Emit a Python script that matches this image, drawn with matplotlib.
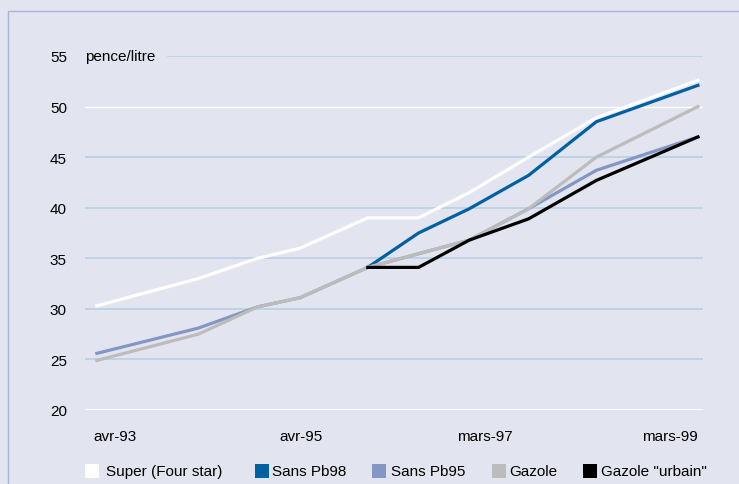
import matplotlib.pyplot as plt
from matplotlib.patches import Rectangle

plt.rcParams['font.family'] = ['Liberation Sans', 'DejaVu Sans']

# months since avr-93
months = [0, 12, 19, 24, 32, 38, 44, 51, 59, 71]

super_4star = [30.3, 33.0, 35.0, 36.0, 39.0, 39.0, 41.5, 45.0, 48.9, 52.6]
pb98 = [None, None, None, None, 34.1, 37.5, 39.9, 43.2, 48.5, 52.1]
pb95 = [25.6, 28.1, 30.2, 31.1, 34.1, 35.45, 36.8, 39.9, 43.7, 47.0]
gazole = [24.9, 27.5, 30.2, 31.1, 34.1, 35.45, 36.8, 39.9, 45.0, 50.0]
gazole_urbain = [None, None, None, None, 34.1, 34.1, 36.8, 38.9, 42.7, 47.0]

tick_pos = [2.2, 24.1, 45.8, 67.7]
tick_labels = ['avr-93', 'avr-95', 'mars-97', 'mars-99']

names = ['Super (Four star)', 'Sans Pb98', 'Sans Pb95', 'Gazole', 'Gazole "urbain"']
colors = ['#ffffff', '#0060a0', '#8497c4', '#bcbcbc', '#000000']
bg = '#e2e4ef'
fs = 11

fig = plt.figure(figsize=(7.39, 4.85), dpi=100, facecolor=bg)
ax = fig.add_axes([85 / 739, 1 - 411 / 485, 618 / 739, 354 / 485])
ax.set_facecolor(bg)

# frame (left and top edges only visible)
fig.patches.append(Rectangle((8 / 739, -0.1), 1.2, 1 - 12 / 485 + 0.1,
                             transform=fig.transFigure, fill=False,
                             edgecolor='#a8b4d8', linewidth=1))

# grid lines
for v in [25, 30, 35, 40, 45]:
    ax.axhline(v, color='#b9d0e4', linewidth=1.2, zorder=1)
ax.axhline(55, xmin=(168 - 85) / 618, color='#b9d0e4', linewidth=1.2, zorder=1)
ax.axhline(50, color='white', linewidth=1.0, zorder=1)
ax.axhline(20, color='white', linewidth=2.0, zorder=1)

series = [super_4star, pb98, pb95, gazole, gazole_urbain]
for i, (vals, c) in enumerate(zip(series, colors)):
    xs = [m for m, v in zip(months, vals) if v is not None]
    ys = [v for v in vals if v is not None]
    ax.plot(xs, ys, color=c, linewidth=2.3, zorder=3 + i, solid_joinstyle='miter')

ax.set_xlim(-1.4, 71.6)
ax.set_ylim(20, 55)
for s in ax.spines.values():
    s.set_visible(False)

ax.set_yticks([20, 25, 30, 35, 40, 45, 50, 55])
ax.tick_params(axis='y', length=0, pad=13, labelsize=fs)
ax.set_xticks(tick_pos)
ax.set_xticklabels(tick_labels)
ax.tick_params(axis='x', length=0, pad=14, labelsize=fs)

ax.text(0, 55, 'pence/litre', fontsize=fs, va='center', ha='left',
        transform=ax.get_yaxis_transform())

# legend, laid out by hand
sq_x = [85, 255, 372, 492, 583]
txt_x = [106, 272, 391, 509, 601]
for sx, tx, c, n in zip(sq_x, txt_x, colors, names):
    fig.patches.append(Rectangle((sx / 739, 1 - 479 / 485), 14 / 739, 14 / 485,
                                 transform=fig.transFigure, facecolor=c,
                                 edgecolor='none'))
    fig.text(tx / 739, 1 - 472 / 485, n, fontsize=fs, va='center', ha='left')

fig.savefig('out.png', dpi=100, facecolor=bg)
